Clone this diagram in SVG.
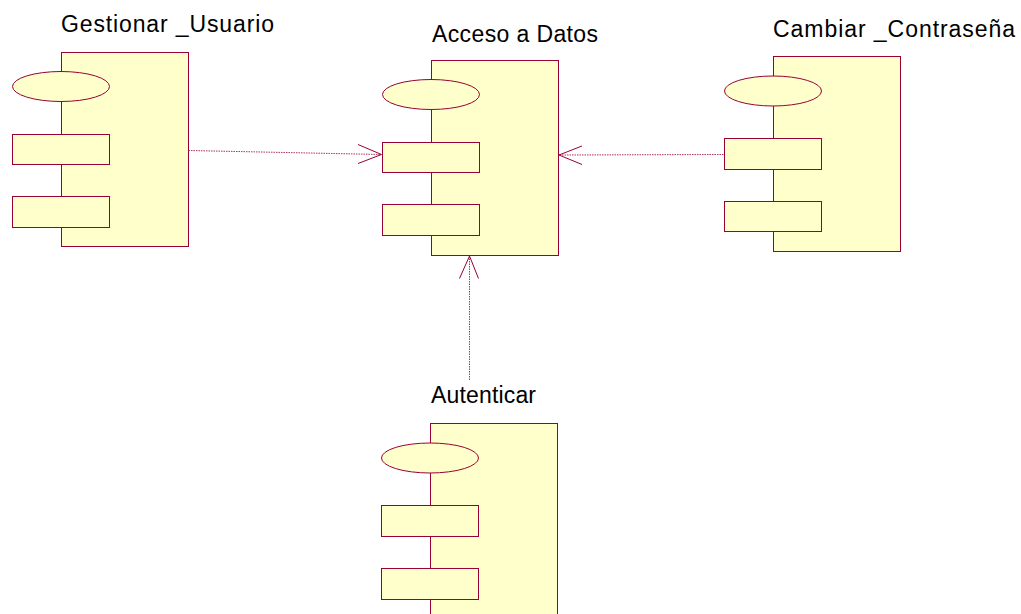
<svg xmlns="http://www.w3.org/2000/svg" width="1021" height="614" viewBox="0 0 1021 614">
<style>
.body,.port,.iface{fill:#ffffcc;stroke:#990033;stroke-width:1}
.lbl{font-family:"Liberation Sans",Arial,sans-serif;font-size:23px;fill:#000}
.dep{fill:none;stroke:#b03060;stroke-width:1;stroke-dasharray:1.5 1}
.head{fill:none;stroke:#990033;stroke-width:1}
</style>
<rect width="1021" height="614" fill="#fff"/>
<g id="gestionar_usuario">
<text class="lbl" x="61" y="32" textLength="213" lengthAdjust="spacing">Gestionar _Usuario</text>
<rect class="body" x="61.5" y="52.5" width="127" height="194"/>
<ellipse class="iface" cx="61" cy="86.5" rx="48.5" ry="15"/>
<rect class="port" x="12.5" y="134.5" width="97" height="30"/>
<rect class="port" x="12.5" y="196.5" width="97" height="31"/>
</g>
<g id="acceso_a_datos">
<text class="lbl" x="432" y="41.5" textLength="166" lengthAdjust="spacing">Acceso a Datos</text>
<rect class="body" x="431.5" y="60.5" width="127" height="195"/>
<ellipse class="iface" cx="431" cy="94.5" rx="48.5" ry="15"/>
<rect class="port" x="382.5" y="142.5" width="97" height="30"/>
<rect class="port" x="382.5" y="204.5" width="97" height="31"/>
</g>
<g id="cambiar_contrasena">
<text class="lbl" x="773" y="37" textLength="242" lengthAdjust="spacing">Cambiar _Contraseña</text>
<rect class="body" x="773.5" y="56.5" width="127" height="195"/>
<ellipse class="iface" cx="773" cy="91" rx="48.5" ry="15"/>
<rect class="port" x="724.5" y="138.5" width="97" height="31"/>
<rect class="port" x="724.5" y="201.5" width="97" height="30"/>
</g>
<g id="autenticar">
<text class="lbl" x="431" y="403" textLength="105" lengthAdjust="spacing">Autenticar</text>
<rect class="body" x="430.5" y="423.5" width="127" height="200"/>
<ellipse class="iface" cx="430" cy="458" rx="48.5" ry="15"/>
<rect class="port" x="381.5" y="505.5" width="97" height="31"/>
<rect class="port" x="381.5" y="568.5" width="97" height="31"/>
</g>
<g id="connectors">
<path class="dep" d="M188.5,150.5 L381,154.5"/>
<path class="head" d="M358,144.5 L381.5,154.5 L358,163.5"/>
<path class="dep" d="M723.5,154.5 L559,155"/>
<path class="head" d="M582,146 L559,155 L582,164.5"/>
<path class="dep" d="M469.5,380 L469.5,257"/>
<path class="head" d="M459.5,278.5 L469.5,256 L478.5,278.5"/>
</g>
</svg>
